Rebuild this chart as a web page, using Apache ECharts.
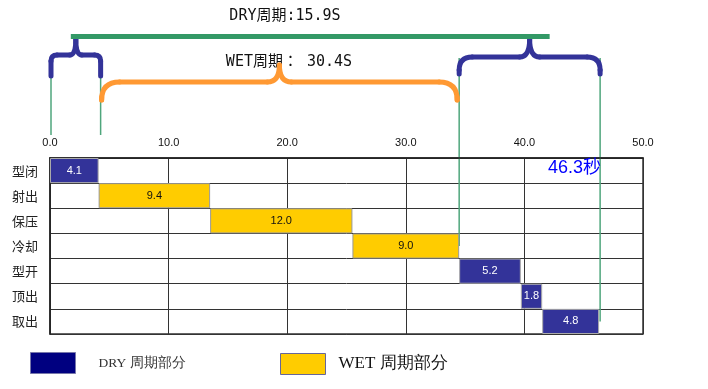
<!DOCTYPE html>
<html><head><meta charset="utf-8">
<script src="https://cdn.jsdelivr.net/npm/echarts@6/dist/echarts.min.js"></script>
<style>html,body{margin:0;padding:0;background:#fff}#c{width:708px;height:389px}</style>
</head><body><div id="c"></div>
<script>
const categories = ['型闭','射出','保压','冷却','型开','顶出','取出'];
const durations = [4.1, 9.4, 12.0, 9.0, 5.2, 1.8, 4.8];
const phaseType = ['DRY','WET','WET','WET','DRY','DRY','DRY'];
const xMin = 0, xMax = 50, xInterval = 10;
const dryTitle = 'DRY周期:15.9S';
const wetTitle = 'WET周期： 30.4S';
const totalLabel = '46.3秒';
const legendNames = ['DRY 周期部分', 'WET 周期部分'];

const offsets = []; let acc = 0;
durations.forEach(d => { offsets.push(+acc.toFixed(1)); acc += d; });
const total = +acc.toFixed(1);
const dryData = durations.map((d, i) => phaseType[i] === 'DRY' ? d : '-');
const wetData = durations.map((d, i) => phaseType[i] === 'WET' ? d : '-');

const chart = echarts.init(document.getElementById('c'));
const cjk = '"Noto Sans CJK SC", "Noto Sans", sans-serif';
chart.setOption({
  animation: false,
  grid: { left: 50, right: 65, top: 158, bottom: 55, show: true, borderColor: '#333', borderWidth: 1.5, backgroundColor: '#fff' },
  xAxis: {
    type: 'value', position: 'top', min: xMin, max: xMax, interval: xInterval,
    axisLine: { show: true, lineStyle: { color: '#222', width: 1.5 } },
    axisTick: { show: false },
    splitLine: { show: true, lineStyle: { color: '#333', width: 1 } },
    axisLabel: { margin: 10, fontSize: 11, color: '#111', fontFamily: '"Liberation Sans", Arial, sans-serif', formatter: v => v.toFixed(1) }
  },
  yAxis: {
    type: 'category', data: categories, inverse: true,
    axisLine: { show: true, lineStyle: { color: '#222', width: 1.5 } },
    axisTick: { show: false },
    splitLine: { show: true, lineStyle: { color: '#333', width: 1 } },
    axisLabel: { margin: 12, fontSize: 13, color: '#222', fontFamily: cjk }
  },
  legend: [
    { data: [{ name: legendNames[0], itemStyle: { color: '#000080', borderColor: '#7777aa', borderWidth: 1 } }],
      left: 30, top: 352, padding: 0, itemWidth: 45, itemHeight: 21, icon: 'rect', selectedMode: false,
      textStyle: { fontFamily: '"Liberation Serif", serif', fontSize: 13.5, color: '#333', padding: [0, 0, 0, 18] } },
    { data: [{ name: legendNames[1], itemStyle: { color: '#FFCC00', borderColor: '#666699', borderWidth: 1 } }],
      left: 280, top: 353, padding: 0, itemWidth: 45, itemHeight: 21, icon: 'rect', selectedMode: false,
      textStyle: { fontFamily: '"Liberation Serif", serif', fontSize: 17, color: '#111', padding: [0, 0, 0, 8] } }
  ],
  series: [
    { name: 'offset', type: 'bar', stack: 'g', data: offsets, silent: true, barCategoryGap: '0%',
      itemStyle: { color: 'transparent' }, emphasis: { disabled: true } },
    { name: legendNames[0], type: 'bar', stack: 'g', data: dryData, barCategoryGap: '0%',
      itemStyle: { color: '#333399', borderColor: '#aaaaaa', borderWidth: 1 },
      label: { show: true, position: 'inside', color: '#fff', fontSize: 11, fontFamily: '"Liberation Sans", Arial, sans-serif', formatter: p => (+p.value).toFixed(1) } },
    { name: legendNames[1], type: 'bar', stack: 'g', data: wetData, barCategoryGap: '0%',
      itemStyle: { color: '#FFCC00', borderColor: '#999999', borderWidth: 1 },
      label: { show: true, position: 'inside', color: '#111', fontSize: 11, fontFamily: '"Liberation Sans", Arial, sans-serif', formatter: p => (+p.value).toFixed(1) } }
  ]
});

const px = v => chart.convertToPixel({ xAxisIndex: 0 }, v);
const py = c => chart.convertToPixel({ yAxisIndex: 0 }, c);

function brace(x1, x2, yb, yh, yt, r, rt, color) {
  const xm = (x1 + x2) / 2;
  const st = { stroke: color, lineWidth: 5, lineCap: 'round', fill: null };
  const seg = (a, b, c, d) => ({ type: 'line', shape: { x1: a, y1: b, x2: c, y2: d }, style: st });
  const bez = (a, b, cx, cy, c, d) => ({ type: 'bezierCurve', shape: { x1: a, y1: b, x2: c, y2: d, cpx1: cx, cpy1: cy }, style: st });
  return [
    seg(x1, yb, x1, yh + r),
    bez(x1, yh + r, x1, yh, x1 + r, yh),
    seg(x1 + r, yh, xm - rt, yh),
    bez(xm - rt, yh, xm, yh, xm, yt),
    bez(xm, yt, xm, yh, xm + rt, yh),
    seg(xm + rt, yh, x2 - r, yh),
    bez(x2 - r, yh, x2, yh, x2, yh + r),
    seg(x2, yh + r, x2, yb)
  ];
}

const d1a = px(offsets[0]), d1b = px(offsets[1]);
const wa = px(offsets[1]), wb = px(offsets[4]);
const d2a = px(offsets[4]), d2b = px(total);
const tip1 = (d1a + d1b + 3) / 2, tip2 = (d2a + d2b + 1) / 2;
const green = '#4fa67c';

const graphics = [
  { type: 'text', x: 285, y: 16, style: { text: dryTitle, fontSize: 15, fontFamily: '"DejaVu Sans Mono", "Noto Sans CJK JP", monospace', fill: '#111', align: 'center', verticalAlign: 'middle' } },
  { type: 'text', x: 289, y: 62, style: { text: wetTitle, fontSize: 15, fontFamily: '"DejaVu Sans Mono", "Noto Sans CJK JP", monospace', fill: '#111', align: 'center', verticalAlign: 'middle' } },
  { type: 'line', shape: { x1: d1a + 1, y1: 76, x2: d1a + 1, y2: 135 }, style: { stroke: green, lineWidth: 1.5 } },
  { type: 'line', shape: { x1: d1b + 2, y1: 76, x2: d1b + 2, y2: 135 }, style: { stroke: green, lineWidth: 1.5 } },
  { type: 'line', shape: { x1: d2a, y1: 58, x2: d2a, y2: py(categories[3]) }, style: { stroke: green, lineWidth: 1.5 } },
  { type: 'line', shape: { x1: d2b + 1, y1: 58, x2: d2b + 1, y2: py(categories[6]) }, style: { stroke: green, lineWidth: 1.5 } }
]
.concat(brace(d1a + 1, d1b + 2, 76, 55, 39, 6, 6, '#333399'))
.concat(brace(wa + 3, wb - 2, 97, 82, 65, 18, 12, '#ff9933'))
.concat(brace(d2a, d2b + 1, 74, 57, 39, 13, 10, '#333399'))
.concat([
  { type: 'line', shape: { x1: tip1 - 5, y1: 36.5, x2: tip2 + 20, y2: 36.5 }, style: { stroke: '#339966', lineWidth: 5 } },
  { type: 'text', x: d2b + 2, y: 168, z: 100, style: { text: totalLabel, fontSize: 18, fontFamily: '"Liberation Sans", "Noto Sans CJK SC", sans-serif', fill: '#0000ff', align: 'right', verticalAlign: 'middle' } }
]);
chart.setOption({ graphic: graphics });
</script></body></html>
